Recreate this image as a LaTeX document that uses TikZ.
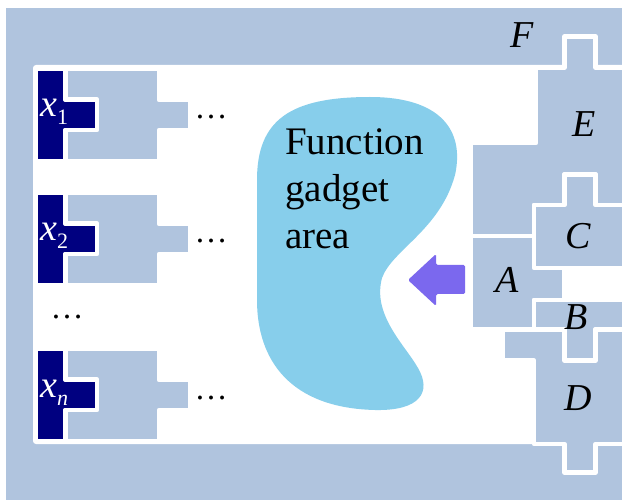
\documentclass[tikz,border=0pt]{standalone}
\usepackage{fontspec}
\setmainfont{Liberation Serif}

\definecolor{frameblue}{HTML}{B0C4DE}
\definecolor{inputnavy}{HTML}{000080}
\definecolor{gadgetblue}{HTML}{87CEEB}
\definecolor{arrowviolet}{HTML}{7B68EE}

\begin{document}
\begin{tikzpicture}[x=1pt,y=-1pt,
  piece/.style={fill=frameblue,draw=white,line width=4.5pt,line join=round},
  inpiece/.style={fill=inputnavy,draw=white,line width=4.5pt,line join=round},
  lbl/.style={inner sep=0pt,anchor=base,font=\fontsize{38}{46}\selectfont\itshape},
  dotlbl/.style={inner sep=0pt,anchor=base,font=\fontsize{33}{40}\selectfont}]
  \useasboundingbox (0,0) rectangle (622,500);
  \clip (0,0) rectangle (622,500);
  \fill[frameblue] (6,8) rectangle (640,520);
  \fill[white,rounded corners=3pt] (33,65) rectangle (640,444);
  \draw[piece] (564.5,36.5) -- (595.5,36.5) -- (595.5,67.5) -- (640,67.5) -- (640,205)
    -- (595.5,205) -- (595.5,174.5) -- (564.5,174.5) -- (564.5,205) -- (534,205)
    -- (534,236) -- (471,236) -- (471,143) -- (536,143) -- (536,67.5) -- (564.5,67.5) -- cycle;
  \draw[piece] (564.5,174.5) -- (595.5,174.5) -- (595.5,205) -- (640,205) -- (640,268)
    -- (534,268) -- (534,205) -- (564.5,205) -- cycle;
  \draw[piece] (471,236) -- (534,236) -- (534,268) -- (564,268) -- (564,300)
    -- (534,300) -- (534,329.5) -- (471,329.5) -- cycle;
  \draw[piece] (534,300) -- (640,300) -- (640,329.5) -- (595.5,329.5) -- (595.5,360.5)
    -- (564.5,360.5) -- (564.5,329.5) -- (534,329.5) -- cycle;
  \draw[piece] (503,329.5) -- (564.5,329.5) -- (564.5,360.5) -- (595.5,360.5) -- (595.5,329.5)
    -- (640,329.5) -- (640,444) -- (595.5,444) -- (595.5,472.5) -- (564.5,472.5)
    -- (564.5,444) -- (534,444) -- (534,360.5) -- (503,360.5) -- cycle;
  \foreach \dy/\sub/\nm in {0/1/1,124/2/2,280/{\itshape n}/n} {
    \begin{scope}[shift={(0,\dy)}]
      \draw[inpiece] (36,69) -- (65.5,69) -- (65.5,99.5) -- (97,99.5) -- (97,130)
        -- (65.5,130) -- (65.5,161) -- (36,161) -- cycle;
      \draw[piece] (65.5,69) -- (159,69) -- (159,100) -- (190,100) -- (190,130) -- (159,130)
        -- (159,161) -- (65.5,161) -- (65.5,130) -- (97,130) -- (97,99.5) -- (65.5,99.5) -- cycle;
      \node (x\nm) at (40,117) [lbl,anchor=base west,text=white]
        {x\raisebox{-8pt}{\fontsize{22}{22}\selectfont\upshape\sub}};
      \node (dots\nm) at (211,119) [dotlbl] {…};
    \end{scope}
  }
  \node (middots) at (67,319) [dotlbl] {…};
  \fill[gadgetblue] (257,300) .. controls (257,360) and (290,408) .. (375,410)
    .. controls (420,411) and (432,392) .. (418,368)
    .. controls (405,345) and (372,315) .. (382,278)
    .. controls (392,250) and (440,230) .. (455,175)
    .. controls (465,130) and (440,97) .. (370,97)
    .. controls (290,97) and (257,120) .. (257,180) -- cycle;
  \node (gadget) at (285,248) [inner sep=0pt,anchor=base west,align=left,
    font=\fontsize{39}{47}\selectfont] {Function\\gadget\\area};
  \fill[arrowviolet,rounded corners=1.5pt] (408,280) -- (436,254) -- (436,265) -- (465,265)
    -- (465,294) -- (436,294) -- (436,306) -- cycle;
  \node (labF) at (522,48)  [lbl] {F};
  \node (labE) at (584,137) [lbl] {E};
  \node (labC) at (578,248) [lbl] {C};
  \node (labA) at (507,292) [lbl] {A};
  \node (labB) at (576,330) [lbl] {B};
  \node (labD) at (578,410) [lbl] {D};
\end{tikzpicture}
\end{document}
